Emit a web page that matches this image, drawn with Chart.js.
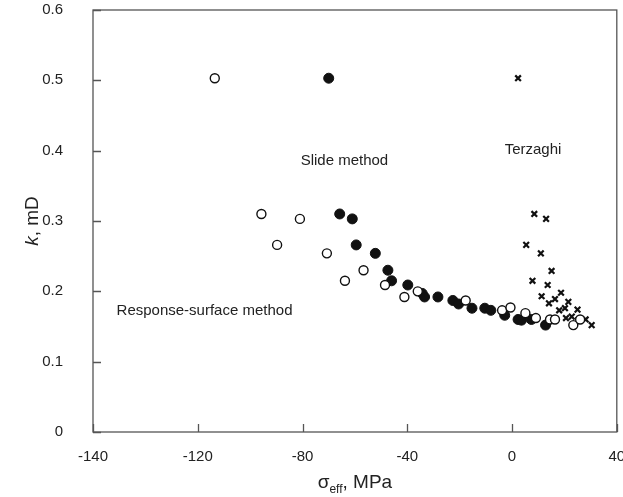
<!DOCTYPE html>
<html>
<head>
<meta charset="utf-8">
<script src="https://cdn.jsdelivr.net/npm/chart.js@4"></script>
<style>
  body { margin: 0; background: #fff; }
</style>
</head>
<body>
<canvas id="chart" width="623" height="497"></canvas>
<script>
// axis ticks (the original figure labels its first tick "-140")
const xTickValues = [-160, -120, -80, -40, 0, 40];
const xTickLabels = ['-140', '-120', '-80', '-40', '0', '40'];
const yTickLabels = ['0', '0.1', '0.2', '0.3', '0.4', '0.5', '0.6'];

// Response-surface method (open circles)
const responseX = [-113.5, -95.7, -81, -89.7, -70.7, -63.8, -56.7, -48.5, -41.1, -36, -17.7, -3.8, -0.6, 5.1, 9.1, 14.5, 16.4, 23.4, 26];
const responseY = [0.503, 0.31, 0.303, 0.266, 0.254, 0.215, 0.23, 0.209, 0.192, 0.2, 0.187, 0.173, 0.177, 0.169, 0.162, 0.16, 0.16, 0.152, 0.16];

// Slide method (filled circles)
const slideX = [-70, -65.8, -61, -59.5, -52.2, -47.4, -46, -39.8, -34.3, -33.4, -28.3, -22.6, -20.4, -15.3, -10.4, -8.1, -2.8, 2.3, 3.6, 7.4, 12.8];
const slideY = [0.503, 0.31, 0.303, 0.266, 0.254, 0.23, 0.215, 0.209, 0.197, 0.192, 0.192, 0.187, 0.182, 0.176, 0.176, 0.173, 0.166, 0.16, 0.159, 0.16, 0.152];

// Terzaghi (crosses)
const terzaghiX = [2.3, 8.5, 13, 5.4, 11, 15.1, 7.8, 13.6, 11.3, 14.1, 16.4, 18.7, 18, 20.2, 21.5, 20.6, 22.8, 25, 25.3, 28.1, 30.4];
const terzaghiY = [0.503, 0.31, 0.303, 0.266, 0.254, 0.229, 0.215, 0.209, 0.193, 0.183, 0.189, 0.198, 0.173, 0.176, 0.185, 0.162, 0.164, 0.174, 0.159, 0.16, 0.152];

const toPoints = (xs, ys) => xs.map((x, i) => ({ x: x, y: ys[i] }));

const FONT = '"Liberation Sans", Arial, sans-serif';

// frame, inward ticks, axis titles and method labels
const decorations = {
  id: 'decorations',
  afterDraw(chart) {
    const ctx = chart.ctx;
    const area = chart.chartArea;
    const xs = chart.scales.x;
    const ys = chart.scales.y;
    ctx.save();
    ctx.strokeStyle = '#555';
    ctx.lineWidth = 1.3;
    ctx.strokeRect(area.left, area.top, area.right - area.left, area.bottom - area.top);

    // inward tick marks
    ctx.beginPath();
    xTickValues.forEach(v => {
      const px = Math.round(xs.getPixelForValue(v)) + 0.5;
      ctx.moveTo(px, area.bottom);
      ctx.lineTo(px, area.bottom - 8);
    });
    yTickLabels.forEach(l => {
      const py = Math.round(ys.getPixelForValue(parseFloat(l))) + 0.5;
      ctx.moveTo(area.left, py);
      ctx.lineTo(area.left + 8, py);
    });
    ctx.stroke();

    ctx.fillStyle = '#222';
    ctx.textBaseline = 'alphabetic';

    // x title: sigma_eff, MPa
    const big = '19px ' + FONT;
    const small = '12px ' + FONT;
    ctx.font = big;
    const w1 = ctx.measureText('σ').width;
    const w3 = ctx.measureText(', MPa').width;
    ctx.font = small;
    const w2 = ctx.measureText('eff').width;
    let tx = (area.left + area.right) / 2 - (w1 + w2 + w3) / 2;
    const ty = 488;
    ctx.font = big;
    ctx.fillText('σ', tx, ty);
    tx += w1;
    ctx.font = small;
    ctx.fillText('eff', tx, ty + 5);
    tx += w2;
    ctx.font = big;
    ctx.fillText(', MPa', tx, ty);

    // y title: k, mD
    ctx.save();
    ctx.translate(38, (area.top + area.bottom) / 2);
    ctx.rotate(-Math.PI / 2);
    ctx.font = 'italic 19px ' + FONT;
    const wk = ctx.measureText('k').width;
    ctx.font = '19px ' + FONT;
    const wr = ctx.measureText(', mD').width;
    let ky = -(wk + wr) / 2;
    ctx.font = 'italic 19px ' + FONT;
    ctx.fillText('k', ky, 0);
    ctx.font = '19px ' + FONT;
    ctx.fillText(', mD', ky + wk, 0);
    ctx.restore();

    // method labels
    ctx.font = '15px ' + FONT;
    ctx.textBaseline = 'middle';
    ctx.textAlign = 'left';
    ctx.fillText('Response-surface method', xs.getPixelForValue(-151), ys.getPixelForValue(0.172));
    ctx.textAlign = 'center';
    ctx.fillText('Slide method', xs.getPixelForValue(-64), ys.getPixelForValue(0.386));
    ctx.fillText('Terzaghi', xs.getPixelForValue(8), ys.getPixelForValue(0.401));
    ctx.restore();
  }
};

new Chart(document.getElementById('chart'), {
  type: 'scatter',
  data: {
    datasets: [
      {
        label: 'Response-surface method',
        data: toPoints(responseX, responseY),
        pointStyle: 'circle',
        pointRadius: 4.5,
        pointBorderWidth: 1.4,
        pointBorderColor: '#111',
        pointBackgroundColor: '#fff',
      },
      {
        label: 'Slide method',
        data: toPoints(slideX, slideY),
        pointStyle: 'circle',
        pointRadius: 5,
        pointBorderWidth: 1,
        pointBorderColor: '#111',
        pointBackgroundColor: '#111',
      },
      {
        label: 'Terzaghi',
        data: toPoints(terzaghiX, terzaghiY),
        pointStyle: 'crossRot',
        pointRadius: 4,
        pointBorderWidth: 2.2,
        pointBorderColor: '#111',
      },
    ],
  },
  options: {
    responsive: false,
    animation: false,
    events: [],
    layout: { padding: { top: 10, right: 6, left: 0, bottom: 0 } },
    plugins: { legend: { display: false }, tooltip: { enabled: false } },
    scales: {
      x: {
        type: 'linear',
        min: -160,
        max: 40,
        afterBuildTicks: scale => {
          scale.ticks = xTickValues.map(v => ({ value: v }));
        },
        afterFit: scale => {
          scale.height = 65;
          scale.paddingLeft = 0;
          scale.paddingRight = 0;
        },
        grid: { display: false },
        border: { display: false },
        ticks: {
          color: '#222',
          font: { family: FONT, size: 15 },
          padding: 8,
          maxRotation: 0,
          callback: (value) => xTickLabels[xTickValues.indexOf(value)],
        },
      },
      y: {
        min: 0,
        max: 0.6,
        afterFit: scale => {
          scale.width = 93;
          scale.paddingTop = 0;
          scale.paddingBottom = 0;
        },
        grid: { display: false },
        border: { display: false },
        ticks: {
          stepSize: 0.1,
          color: '#222',
          font: { family: FONT, size: 15 },
          padding: 22,
          callback: (value) => yTickLabels[Math.round(value * 10)],
        },
      },
    },
  },
  plugins: [decorations],
});
</script>
</body>
</html>
